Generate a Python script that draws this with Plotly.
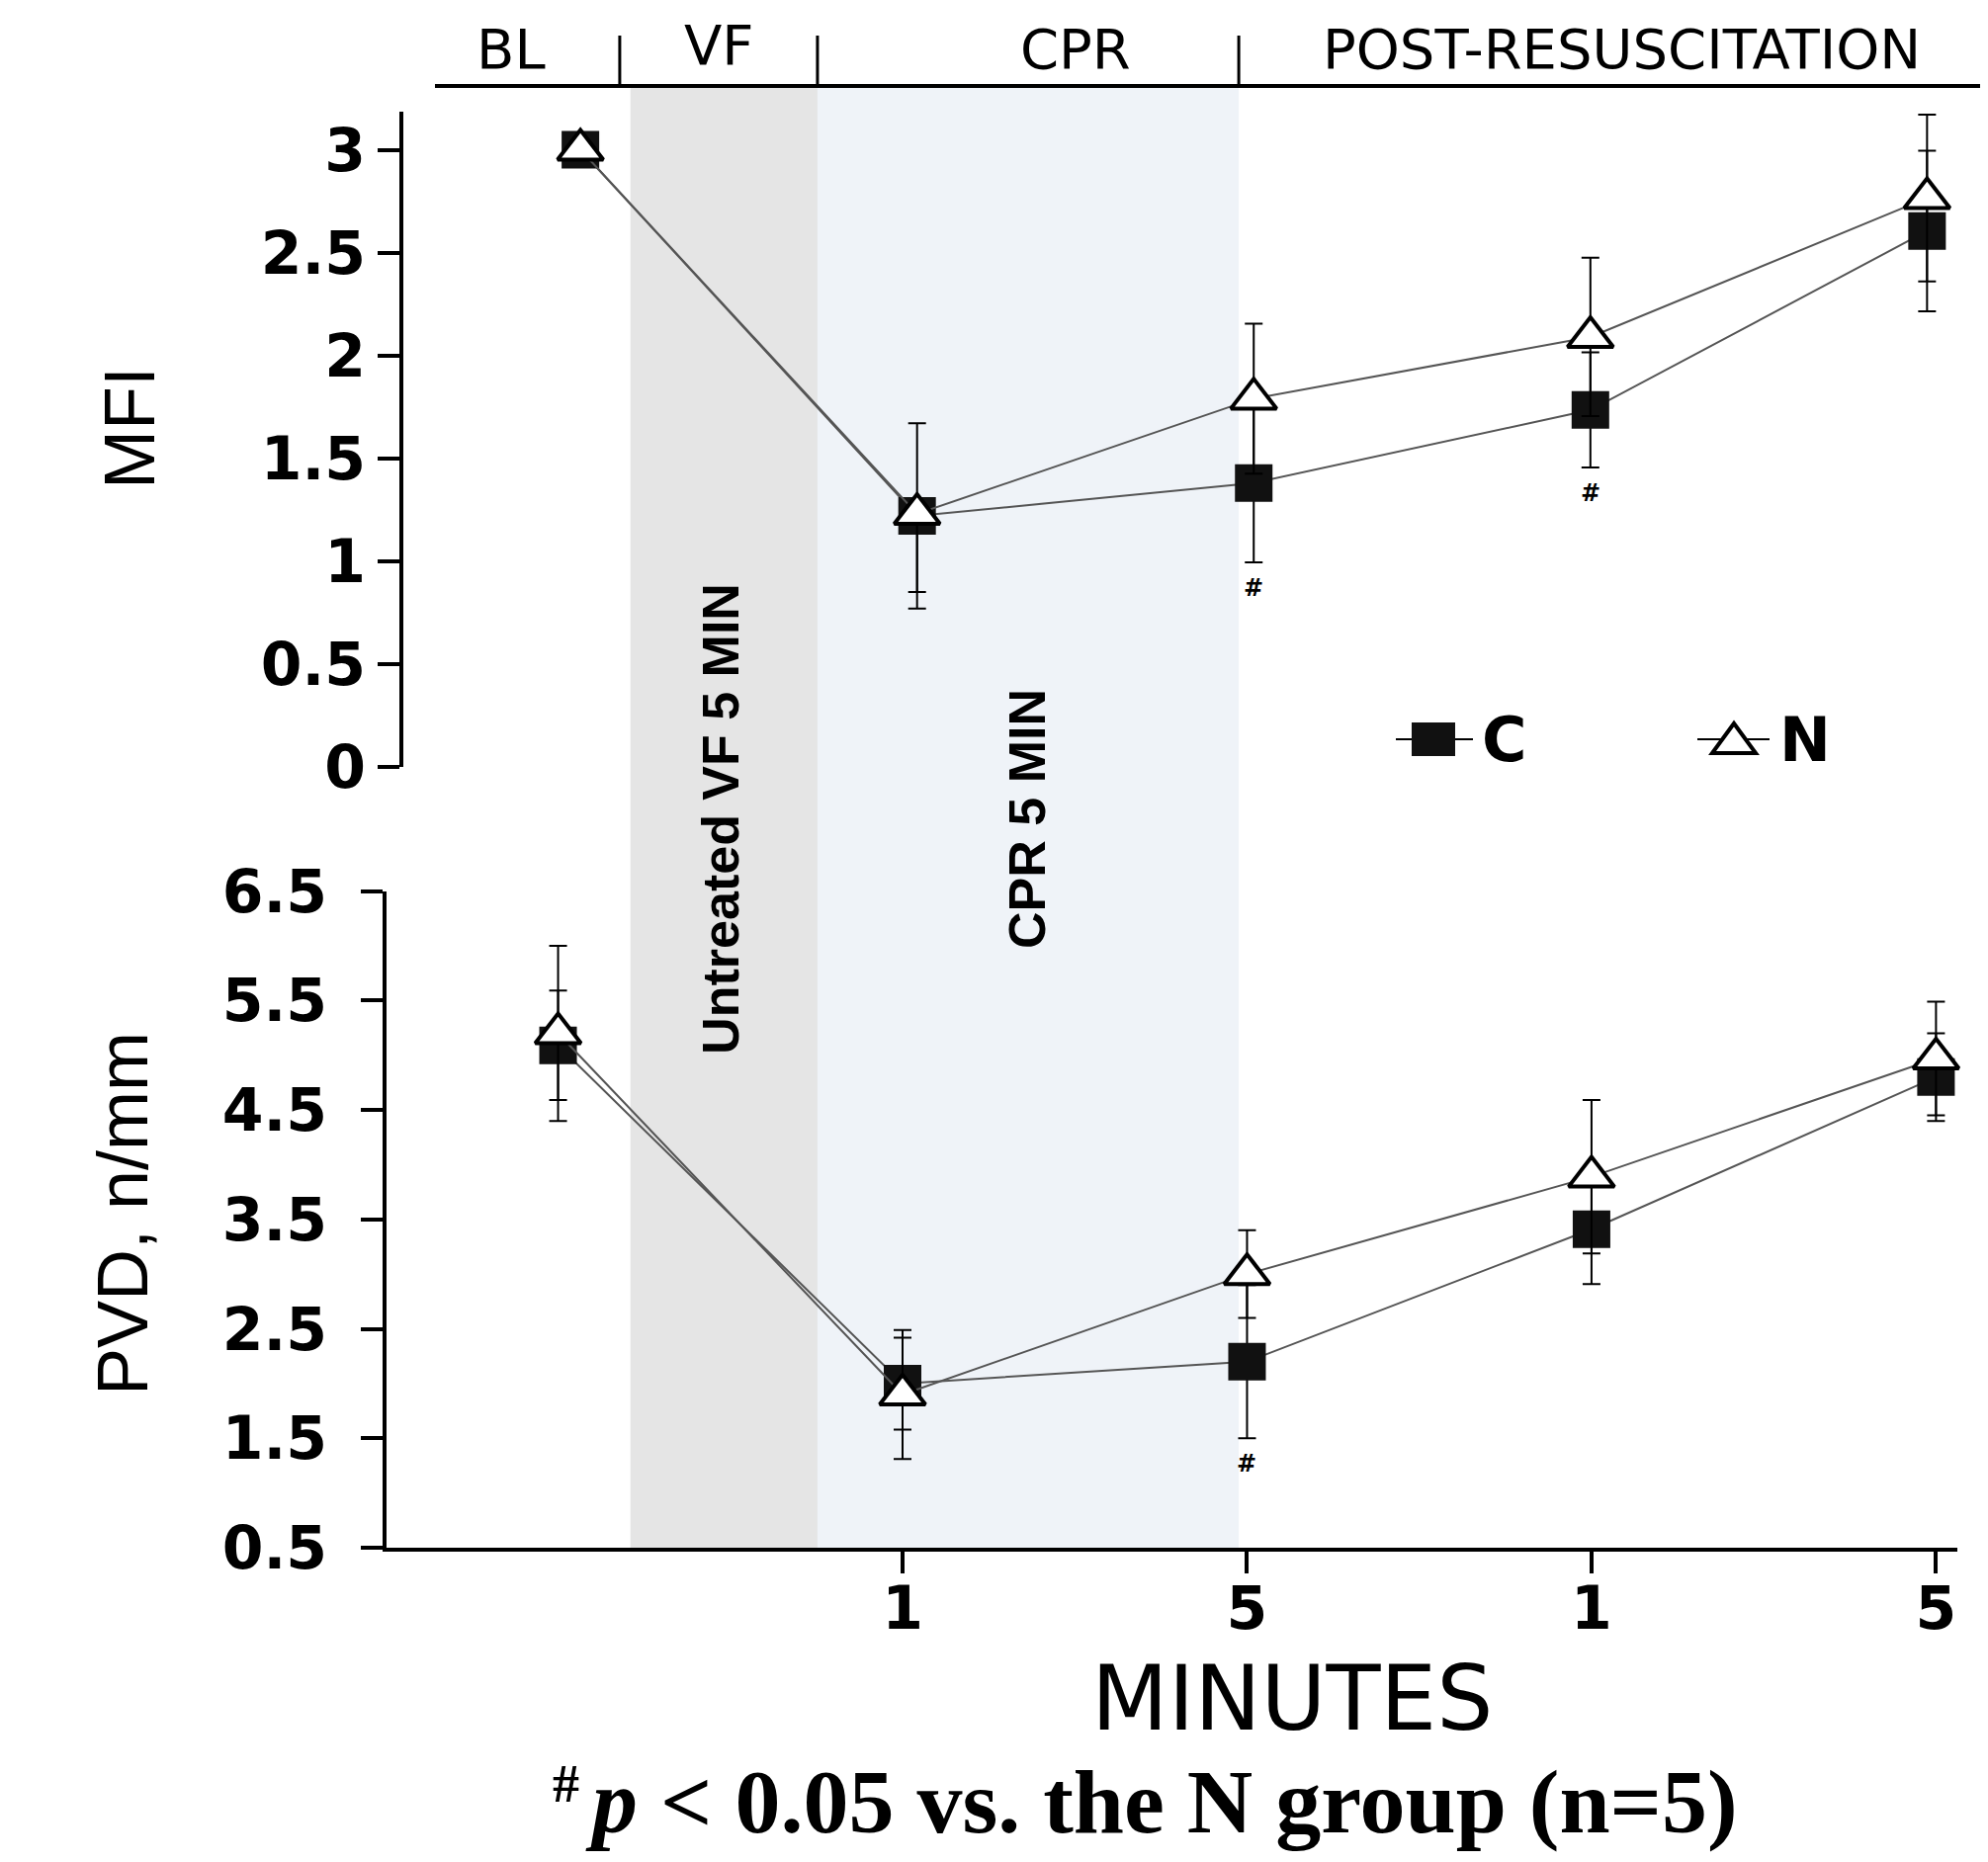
import plotly.graph_objects as go

# ---------------- data ----------------
time_points = ["BL", "CPR 1", "CPR 5", "POST 1", "POST 5"]
x_tick_text = ["1", "5", "1", "5"]
phase_labels = ["BL", "VF", "CPR", "POST-RESUSCITATION"]

mfi_c = [3.0, 1.22, 1.38, 1.735, 2.605]
mfi_c_err = [0.0, 0.45, 0.385, 0.28, 0.39]
mfi_n = [3.0, 1.23, 1.79, 2.09, 2.765]
mfi_n_err_up = [0.0, 0.0, 0.365, 0.385, 0.405]
mfi_n_err_down = [0.0, 0.38, 0.365, 0.385, 0.405]
mfi_sig = [False, False, True, True, False]

pvd_c = [5.09, 2.0, 2.2, 3.41, 4.8]
pvd_c_err = [0.5, 0.42, 0.7, 0.5, 0.4]
pvd_n = [5.2, 1.9, 3.0, 3.89, 4.97]
pvd_n_err = [0.8, 0.59, 0.4, 0.7, 0.52]
pvd_sig = [False, False, True, False, False]

# ---------------- layout constants ----------------
PAGE_W, PAGE_H = 2011, 1884
BODY = 8  # default page margin around the plot div
W, H = PAGE_W - 2 * BODY, PAGE_H - 2 * BODY


def px_x(p):
    return (p - BODY) / W


def px_y(p):
    return 1 - (p - BODY) / H


xs = list(range(len(time_points)))
LINE = "#555555"
SANS = "DejaVu Sans"
ARIAL = "Liberation Sans, Arial"
SERIF = "Liberation Serif, Times New Roman"

# phase edges on the bottom time axis
vf_shade = (0.21, 0.753)
cpr_shade = (0.753, 1.976)
separators = [0.179, 0.753, 1.976]
header_label_x = [-0.137, 0.469, 1.502, 3.087]

fig = go.Figure()


def add_series(x, y, err_up, err_down, xa, ya, name, marker):
    fig.add_trace(go.Scatter(
        x=x, y=y, mode="lines+markers", name=name, xaxis=xa, yaxis=ya,
        line=dict(color=LINE, width=2),
        marker=marker,
        error_y=dict(type="data", array=err_up, arrayminus=err_down, symmetric=False,
                     color="black", thickness=2, width=9),
        showlegend=False, cliponaxis=False,
    ))


c_marker = dict(symbol="square", size=38, color="#111111", line=dict(width=0))
n_marker = dict(symbol="triangle-up", size=40, color="white", line=dict(color="black", width=4))

add_series(xs, mfi_c, mfi_c_err, mfi_c_err, "x2", "y2", "C", c_marker)
add_series(xs, mfi_n, mfi_n_err_up, mfi_n_err_down, "x2", "y2", "N", n_marker)
add_series(xs, pvd_c, pvd_c_err, pvd_c_err, "x", "y", "C", c_marker)
add_series(xs, pvd_n, pvd_n_err, pvd_n_err, "x", "y", "N", n_marker)

tick_font = dict(family=SANS, size=60, color="black", weight="bold")

fig.update_layout(
    width=W, height=H, margin=dict(l=0, r=0, t=0, b=0, pad=0, autoexpand=False),
    paper_bgcolor="white", plot_bgcolor="rgba(0,0,0,0)",
    showlegend=False,
    xaxis=dict(domain=[px_x(391), px_x(1980)], range=[-0.498, 4.062], anchor="y",
               showline=True, linecolor="black", linewidth=4, showgrid=False, zeroline=False,
               tickmode="array", tickvals=xs[1:], ticktext=x_tick_text,
               ticks="outside", ticklen=22, tickwidth=4, tickcolor="black",
               tickfont=tick_font, ticklabelstandoff=-16, automargin=False),
    yaxis=dict(domain=[px_y(1566), px_y(901.6)], range=[0.5, 6.5], anchor="x",
               showline=True, linecolor="black", linewidth=4, showgrid=False, zeroline=False,
               tickmode="array", tickvals=[0.5, 1.5, 2.5, 3.5, 4.5, 5.5, 6.5],
               ticks="outside", ticklen=22, tickwidth=4, tickcolor="black",
               tickfont=tick_font, ticklabelstandoff=22, automargin=False),
    xaxis2=dict(domain=[px_x(408), px_x(1980)], range=[-0.526, 4.09], anchor="y2",
                visible=False, automargin=False),
    yaxis2=dict(domain=[px_y(776), px_y(113)], range=[0, 3.185], anchor="x2",
                showline=True, linecolor="black", linewidth=4, showgrid=False, zeroline=False,
                tickmode="linear", tick0=0, dtick=0.5,
                ticks="outside", ticklen=22, tickwidth=4, tickcolor="black",
                tickfont=tick_font, ticklabelstandoff=0, automargin=False),
)

shapes = []
# phase shading
for (x0, x1), col in [(vf_shade, "#e5e5e5"), (cpr_shade, "#eff3f8")]:
    shapes.append(dict(type="rect", xref="x", yref="paper", x0=x0, x1=x1,
                       y0=px_y(1566), y1=px_y(87), fillcolor=col, line=dict(width=0), layer="below"))
# header line and separators
shapes.append(dict(type="line", xref="paper", yref="paper", x0=px_x(440), x1=px_x(2003),
                   y0=px_y(87), y1=px_y(87), line=dict(color="black", width=4)))
for s in separators:
    shapes.append(dict(type="line", xref="x", yref="paper", x0=s, x1=s,
                       y0=px_y(87), y1=px_y(36), line=dict(color="black", width=3)))

# custom legend
ly = 748
shapes.append(dict(type="line", xref="paper", yref="paper", x0=px_x(1412), x1=px_x(1490),
                   y0=px_y(ly), y1=px_y(ly), line=dict(color="black", width=2)))
shapes.append(dict(type="rect", xref="paper", yref="paper", x0=px_x(1428), x1=px_x(1472),
                   y0=px_y(ly + 17), y1=px_y(ly - 17), fillcolor="#111111", line=dict(width=0)))
shapes.append(dict(type="line", xref="paper", yref="paper", x0=px_x(1717), x1=px_x(1790),
                   y0=px_y(ly), y1=px_y(ly), line=dict(color="black", width=2)))
tri = "M {a},{b} L {c},{b} L {d},{e} Z".format(a=px_x(1732), b=px_y(ly + 14), c=px_x(1776),
                                               d=px_x(1754), e=px_y(ly - 16))
shapes.append(dict(type="path", xref="paper", yref="paper", path=tri,
                   fillcolor="white", line=dict(color="black", width=4)))
fig.update_layout(shapes=shapes)

ann = []
header_y = [49, 45, 49, 49]
for lab, xv, hy in zip(phase_labels, header_label_x, header_y):
    ann.append(dict(text=lab, xref="x", yref="paper", x=xv, y=px_y(hy), showarrow=False,
                    xanchor="center", yanchor="middle", font=dict(family=SANS, size=56, color="black")))

ann.append(dict(text="Untreated VF 5 MIN", xref="x", yref="paper", x=0.47, y=px_y(828.5),
                xanchor="center", yanchor="middle",
                textangle=-90, showarrow=False, font=dict(family=ARIAL, size=52, color="black", weight="bold")))
ann.append(dict(text="CPR 5 MIN", xref="x", yref="paper", x=1.36, y=px_y(828.5),
                xanchor="center", yanchor="middle",
                textangle=-90, showarrow=False, font=dict(family=ARIAL, size=52, color="black", weight="bold")))

ann.append(dict(text="MFI", xref="paper", yref="paper", x=px_x(131), y=px_y(433),
                xanchor="center", yanchor="middle",
                textangle=-90, showarrow=False, font=dict(family=ARIAL, size=72, color="black")))
ann.append(dict(text="PVD, n/mm", xref="paper", yref="paper", x=px_x(124), y=px_y(1228),
                xanchor="center", yanchor="middle",
                textangle=-90, showarrow=False, font=dict(family=ARIAL, size=72, color="black")))

ann.append(dict(text="MINUTES", xref="paper", yref="paper", x=px_x(1307), y=px_y(1718),
                xanchor="center", yanchor="middle",
                showarrow=False, font=dict(family=SANS, size=90, color="black")))

# footnote: superscript mark and statement
ann.append(dict(text="<b>#</b>", xref="paper", yref="paper", x=px_x(588), y=px_y(1805),
                xanchor="right", yanchor="middle",
                showarrow=False, font=dict(family=SERIF, size=54, color="black")))
ann.append(dict(text="<b><i>p</i> &lt; 0.05 vs. the N group (n=5)</b>",
                xref="paper", yref="paper", x=px_x(590), y=0, xanchor="left", yanchor="bottom",
                showarrow=False, font=dict(family=SERIF, size=92, color="black")))

# legend labels
ann.append(dict(text="C", xref="paper", yref="paper", x=px_x(1497), y=px_y(ly), xanchor="left",
                yanchor="middle",
                showarrow=False, font=dict(family=SANS, size=62, color="black", weight="bold")))
ann.append(dict(text="N", xref="paper", yref="paper", x=px_x(1798), y=px_y(ly), xanchor="left",
                yanchor="middle",
                showarrow=False, font=dict(family=SANS, size=62, color="black", weight="bold")))

# significance marks
for i, s in enumerate(mfi_sig):
    if s:
        ann.append(dict(text="#", xref="x2", yref="y2", x=xs[i], y=mfi_c[i] - mfi_c_err[i],
                        xanchor="center", yanchor="top", yshift=-10, showarrow=False,
                        font=dict(family=SANS, size=24, color="black", weight="bold")))
for i, s in enumerate(pvd_sig):
    if s:
        ann.append(dict(text="#", xref="x", yref="y", x=xs[i], y=pvd_c[i] - pvd_c_err[i],
                        xanchor="center", yanchor="top", yshift=-10, showarrow=False,
                        font=dict(family=SANS, size=24, color="black", weight="bold")))

fig.update_layout(annotations=ann)
fig.write_html("out.html")
